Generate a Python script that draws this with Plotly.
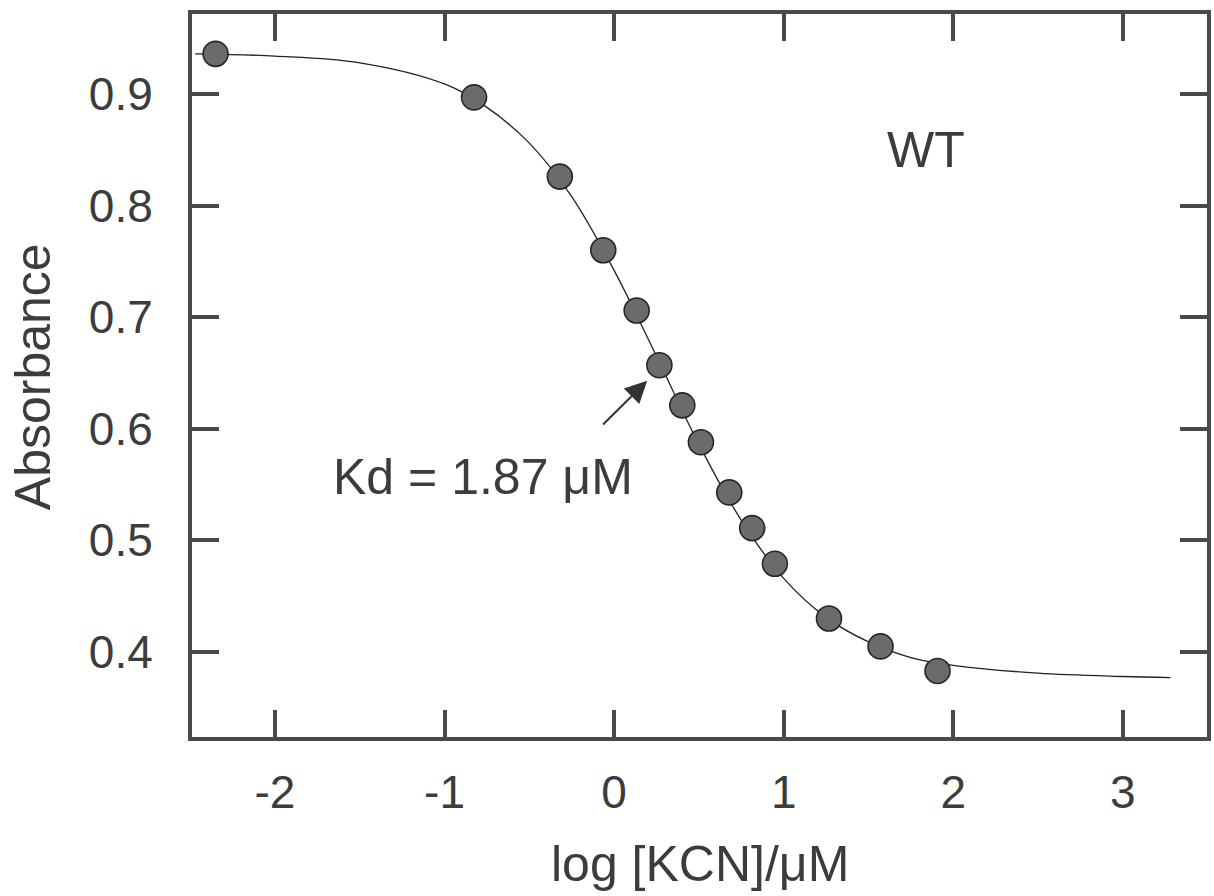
import plotly.graph_objects as go

# Measured data points (log [KCN]/uM, absorbance)
log_kcn = [-2.35, -0.826, -0.320, -0.064, 0.133, 0.267, 0.402, 0.512, 0.679, 0.814, 0.948, 1.267, 1.571, 1.907]
absorbance = [0.936, 0.897, 0.826, 0.760, 0.706, 0.657, 0.621, 0.588, 0.543, 0.511, 0.479, 0.430, 0.405, 0.383]

# Fitted curve
curve_x = [-2.47, -2.0, -1.5, -1.0, -0.75, -0.5, -0.25, 0.0, 0.25, 0.5, 0.75, 1.0, 1.25, 1.5, 1.75, 2.0, 2.5, 3.0, 3.28]
curve_y = [0.936, 0.934, 0.928, 0.909, 0.888, 0.856, 0.808, 0.742, 0.665, 0.586, 0.518, 0.466, 0.431, 0.409, 0.395, 0.388, 0.381, 0.378, 0.377]

x_ticks = [-2, -1, 0, 1, 2, 3]
x_tick_text = ["-2", "-1", "0", "1", "2", "3"]
y_ticks = [0.4, 0.5, 0.6, 0.7, 0.8, 0.9]
y_tick_text = ["0.4", "0.5", "0.6", "0.7", "0.8", "0.9"]

FONT = "Liberation Sans, Arial, Helvetica, sans-serif"
AXC = "#4a4a4a"
TXT = "#3c3c3c"

fig = go.Figure()
fig.add_trace(go.Scatter(x=curve_x, y=curve_y, mode="lines", line=dict(color="#222222", width=1.3, shape="spline"),
                         showlegend=False, hoverinfo="skip"))
fig.add_trace(go.Scatter(x=log_kcn, y=absorbance, mode="markers",
                         marker=dict(size=25, color="#6b6b6b", line=dict(color="#262626", width=1.6)),
                         showlegend=False))

axis_common = dict(showline=True, linewidth=4, linecolor=AXC, mirror="ticks", ticks="inside",
                   ticklen=27, tickwidth=4, tickcolor=AXC, showgrid=False, zeroline=False, automargin=False,
                   tickfont=dict(family=FONT, size=46, color=TXT))

fig.update_xaxes(range=[-2.489, 3.496], tickvals=x_ticks, ticktext=x_tick_text, ticklabelstandoff=12, **axis_common)
fig.update_yaxes(range=[0.3238, 0.9717], tickvals=y_ticks, ticktext=y_tick_text, ticklabelstandoff=26, **axis_common)

fig.add_annotation(x=0.195, y=0.643, ax=-0.074, ay=0.6025, xref="x", yref="y", axref="x", ayref="y",
                   text="", showarrow=True, arrowhead=2, arrowsize=2.2, arrowwidth=2, arrowcolor="#333333")
fig.add_annotation(x=-0.774, y=0.557, xref="x", yref="y", text="Kd = 1.87 μM", showarrow=False,
                   font=dict(family=FONT, size=50, color=TXT), xanchor="center", yanchor="middle")
fig.add_annotation(x=1.838, y=0.85, xref="x", yref="y", text="WT", showarrow=False,
                   font=dict(family=FONT, size=50, color=TXT), xanchor="center", yanchor="middle")

# Axis titles
fig.add_annotation(x=0.5, y=-0.1757, xref="paper", yref="paper", text="log [KCN]/μM", showarrow=False,
                   font=dict(family=FONT, size=50, color=TXT), xanchor="center", yanchor="middle")
fig.add_annotation(x=-0.1567, y=0.499, xref="paper", yref="paper", text="Absorbance", showarrow=False, textangle=-90,
                   font=dict(family=FONT, size=50, color=TXT), xanchor="center", yanchor="middle")

fig.update_layout(width=1214, height=896, margin=dict(l=192, r=7, t=14, b=159),
                  plot_bgcolor="white", paper_bgcolor="white")

fig.write_html("out.html", config={"displayModeBar": False},
               post_script="document.body.style.margin='0px';document.body.style.overflow='hidden';")
